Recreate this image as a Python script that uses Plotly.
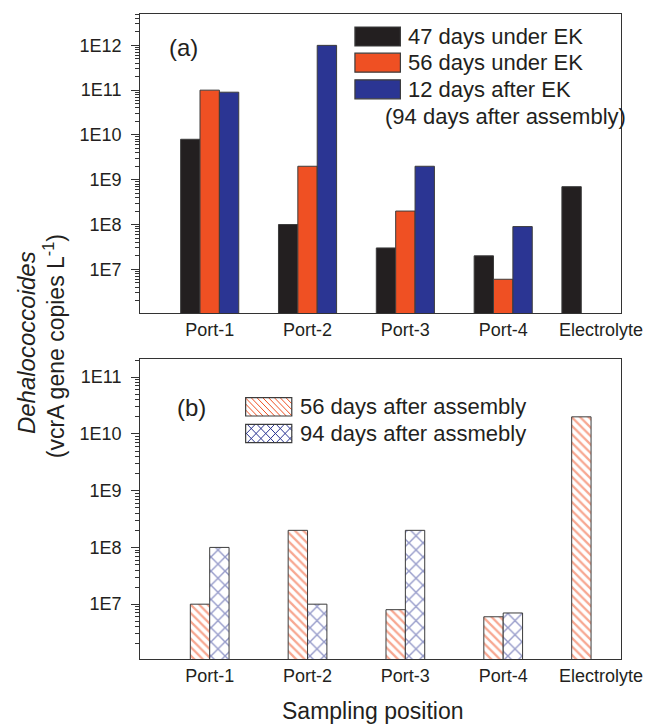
import plotly.graph_objects as go

# ---------------- data ----------------
categories = ["Port-1", "Port-2", "Port-3", "Port-4", "Electrolyte"]

# panel (a)
a_names = ["47 days under EK", "56 days under EK", "12 days after EK"]
a_47_under = [8e9, 1e8, 3e7, 2e7, 7e8]
a_56_under = [1e11, 2e9, 2e8, 6e6, None]
a_12_after = [9e10, 1e12, 2e9, 9e7, None]

# panel (b)
b_names = ["56 days after assembly", "94 days after assmebly"]
b_56_after = [1e7, 2e8, 8e6, 6e6, 2e10]
b_94_after = [1e8, 1e7, 2e8, 7e6, None]

y_tickvals_a = [1e7, 1e8, 1e9, 1e10, 1e11, 1e12]
y_ticktext_a = ["1E7", "1E8", "1E9", "1E10", "1E11", "1E12"]
y_tickvals_b = [1e7, 1e8, 1e9, 1e10, 1e11]
y_ticktext_b = ["1E7", "1E8", "1E9", "1E10", "1E11"]

# ---------------- style ----------------
W, H = 669, 725
FONT = "Arial, 'Liberation Sans', Helvetica, sans-serif"
TXT = "#231f20"
BLACK = "#231f20"
ORANGE = "#ef5023"
BLUE = "#2b3593"
EDGE = "#3c3c3c"
AX = "#333333"


def px(x):
    return x / W


def py(y):
    return 1 - y / H


XDOM = [px(145), px(641.7)]
YDOM_A = [py(313), py(14)]
YDOM_B = [py(659), py(359)]
XR = [-0.71, 4.2]
YR_A = [6.025, 12.70]
YR_B = [6.034, 11.32]

minor_vals = [m * 10 ** k for k in range(5, 13) for m in range(2, 10)]

fig = go.Figure()

bw = 0.198
fig.add_trace(go.Bar(x=categories, y=a_47_under, name=a_names[0], width=bw,
                     offset=[-0.297, -0.297, -0.297, -0.297, -0.40],
                     marker=dict(color=BLACK, line=dict(color=EDGE, width=1)),
                     xaxis="x", yaxis="y", showlegend=False))
fig.add_trace(go.Bar(x=categories, y=a_56_under, name=a_names[1], width=bw, offset=-0.099,
                     marker=dict(color=ORANGE, line=dict(color=EDGE, width=1)),
                     xaxis="x", yaxis="y", showlegend=False))
fig.add_trace(go.Bar(x=categories, y=a_12_after, name=a_names[2], width=bw, offset=0.099,
                     marker=dict(color=BLUE, line=dict(color=EDGE, width=1)),
                     xaxis="x", yaxis="y", showlegend=False))

fig.add_trace(go.Bar(x=categories, y=b_56_after, name=b_names[0], width=bw,
                     offset=[-0.198, -0.198, -0.198, -0.198, -0.30],
                     marker=dict(color="white", line=dict(color=EDGE, width=1),
                                 pattern=dict(shape="\\", fgcolor=ORANGE, bgcolor="white",
                                              size=6, solidity=0.38)),
                     xaxis="x2", yaxis="y2", showlegend=False))
fig.add_trace(go.Bar(x=categories, y=b_94_after, name=b_names[1], width=bw, offset=0.0,
                     marker=dict(color="white", line=dict(color=EDGE, width=1),
                                 pattern=dict(shape="x", fgcolor=BLUE, bgcolor="white",
                                              size=10, solidity=0.26)),
                     xaxis="x2", yaxis="y2", showlegend=False))

tickfont = dict(family=FONT, size=18, color=TXT)

xcommon = dict(type="category", categoryorder="array", categoryarray=categories,
               range=XR, domain=XDOM, showline=True, linecolor=AX, linewidth=1.3,
               mirror=True, ticks="", showgrid=False, zeroline=False, tickfont=tickfont)
ycommon = dict(type="log", showline=True, linecolor=AX, linewidth=1.3, mirror=True,
               ticks="outside", ticklen=8, tickwidth=1, tickcolor=AX, showgrid=False,
               zeroline=False, tickfont=tickfont, ticklabelstandoff=6,
               minor=dict(ticks="outside", ticklen=4, tickwidth=1, tickcolor=AX,
                          tickmode="array", tickvals=minor_vals, showgrid=False))

# overlay axes giving inner ticks on the right / top / bottom edges
xtick_over = dict(type="linear", range=XR, tickmode="linear", tick0=-0.395, dtick=0.5,
                  ticks="inside", ticklen=4, tickwidth=1, tickcolor=AX,
                  showticklabels=False, showline=False, showgrid=False, zeroline=False)
ytick_over = dict(type="log", side="right", ticks="inside", ticklen=5, tickwidth=1,
                  tickcolor=AX, showticklabels=False, showline=False, showgrid=False,
                  zeroline=False,
                  minor=dict(ticks="inside", ticklen=3, tickwidth=1, tickcolor=AX,
                             tickmode="array", tickvals=minor_vals, showgrid=False))

fig.update_layout(
    width=W, height=H, autosize=False,
    margin=dict(l=0, r=0, t=0, b=0),
    paper_bgcolor="white", plot_bgcolor="white",
    font=dict(family=FONT, color=TXT),
    barmode="overlay",
    showlegend=False,
    xaxis=dict(anchor="y", **xcommon),
    yaxis=dict(anchor="x", domain=YDOM_A, range=YR_A, tickmode="array",
               tickvals=y_tickvals_a, ticktext=y_ticktext_a, **ycommon),
    xaxis2=dict(anchor="y2", **xcommon),
    yaxis2=dict(anchor="x2", domain=YDOM_B, range=YR_B, tickmode="array",
                tickvals=y_tickvals_b, ticktext=y_ticktext_b, **ycommon),
    xaxis3=dict(overlaying="x", anchor="y", side="top", **xtick_over),
    xaxis4=dict(overlaying="x", anchor="y", side="bottom", **xtick_over),
    xaxis5=dict(overlaying="x2", anchor="y2", side="top", **xtick_over),
    xaxis6=dict(overlaying="x2", anchor="y2", side="bottom", **xtick_over),
    yaxis3=dict(overlaying="y", anchor="x", range=YR_A, tickmode="array",
                tickvals=y_tickvals_a, **ytick_over),
    yaxis4=dict(overlaying="y2", anchor="x2", range=YR_B, tickmode="array",
                tickvals=y_tickvals_b, **ytick_over),
)

shapes = []
annotations = []


def text(x, y, s, size=22, xanchor="left", angle=0, yanchor="middle"):
    annotations.append(dict(x=px(x), y=py(y), xref="paper", yref="paper", text=s,
                            showarrow=False, xanchor=xanchor, yanchor=yanchor,
                            textangle=angle,
                            font=dict(family=FONT, size=size, color=TXT)))


def rect(x0, y0, x1, y1, fill):
    shapes.append(dict(type="rect", xref="paper", yref="paper",
                       x0=px(x0), x1=px(x1), y0=py(y1), y1=py(y0),
                       fillcolor=fill, line=dict(color=EDGE, width=1.2)))


def hatch(x0, y0, x1, y1, color, spacing, back=True, fwd=False):
    segs = []
    if back:  # "\" lines : x - y = k
        k = x0 - y1
        while k <= x1 - y0:
            t0, t1 = max(x0, y0 + k), min(x1, y1 + k)
            if t1 > t0:
                segs.append(f"M{px(t0)},{py(t0 - k)} L{px(t1)},{py(t1 - k)}")
            k += spacing
    if fwd:  # "/" lines : x + y = k
        k = x0 + y0
        while k <= x1 + y1:
            t0, t1 = max(x0, k - y1), min(x1, k - y0)
            if t1 > t0:
                segs.append(f"M{px(t0)},{py(k - t0)} L{px(t1)},{py(k - t1)}")
            k += spacing
    shapes.append(dict(type="path", xref="paper", yref="paper", path=" ".join(segs),
                       line=dict(color=color, width=1)))


# panel labels
text(173, 47, "(a)", size=24)
text(181, 407, "(b)", size=24)

# legend (a)
rows_a = [36.5, 62.7, 89.3]
fills_a = [BLACK, ORANGE, BLUE]
for yc, f, nm in zip(rows_a, fills_a, a_names):
    rect(367, yc - 9.5, 414, yc + 9.5, f)
    text(420, yc, nm)
text(396, 116.5, "(94 days after assembly)")

# legend (b)
rows_b = [406.8, 433.5]
for i, (yc, nm) in enumerate(zip(rows_b, b_names)):
    x0, y0, x1, y1 = 254, yc - 9.2, 301.7, yc + 9.2
    shapes.append(dict(type="rect", xref="paper", yref="paper", x0=px(x0), x1=px(x1),
                       y0=py(y1), y1=py(y0), fillcolor="white", line=dict(width=0)))
    if i == 0:
        hatch(x0, y0, x1, y1, ORANGE, 6, back=True)
    else:
        hatch(x0, y0, x1, y1, BLUE, 10, back=True, fwd=True)
    shapes.append(dict(type="rect", xref="paper", yref="paper", x0=px(x0), x1=px(x1),
                       y0=py(y1), y1=py(y0), line=dict(color=EDGE, width=1.2)))
    text(308, yc, nm)

# axis titles
text(27, 343, "<i>Dehalococcoides</i>", size=24, xanchor="center", angle=-90)
text(56, 346, "(vcrA gene copies L<sup>-1</sup>)", size=23, xanchor="center", angle=-90)
text(386, 711, "Sampling position", size=23, xanchor="center")

fig.update_layout(shapes=shapes, annotations=annotations)
fig.write_html("out.html", config={"responsive": False})
